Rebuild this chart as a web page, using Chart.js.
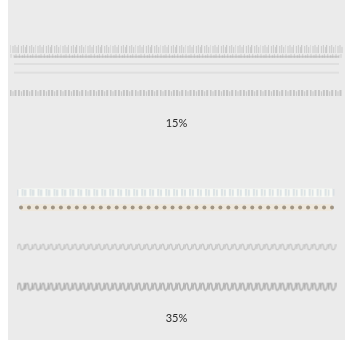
<!DOCTYPE html>
<html>
<head>
<meta charset="utf-8">
<script src="https://cdn.jsdelivr.net/npm/chart.js@4"></script>
<style>
  html, body { margin: 0; padding: 0; background: #fff; }
  #wrap { position: absolute; left: 8px; top: 0; width: 337px; height: 340px; background: #ebebeb; }
  .panel { position: relative; width: 337px; height: 170px; }
</style>
</head>
<body>
<div id="wrap">
  <div class="panel"><canvas id="top"></canvas></div>
  <div class="panel"><canvas id="bottom"></canvas></div>
</div>
<script>
// column slots along each strip
const COLS = ["1","2","3","4","5","6","7","8","9","10","11","12","13","14","15","16","17","18","19","20",
              "21","22","23","24","25","26","27","28","29","30","31","32","33","34","35","36","37","38","39","40"]

const PANEL_TITLES = ["15%", "35%"]

// top panel rows (row level on a hidden scale)
const TOP_TICKS   = [1.0,1.0,1.0,1.0,1.0,1.0,1.0,1.0,1.0,1.0,1.0,1.0,1.0,1.0,1.0,1.0,1.0,1.0,1.0,1.0,1.0,1.0,1.0,1.0,1.0,1.0,1.0,1.0,1.0,1.0,1.0,1.0,1.0,1.0,1.0,1.0,1.0,1.0,1.0,1.0]
const TOP_RULE    = [1.9,1.9,1.9,1.9,1.9,1.9,1.9,1.9,1.9,1.9,1.9,1.9,1.9,1.9,1.9,1.9,1.9,1.9,1.9,1.9,1.9,1.9,1.9,1.9,1.9,1.9,1.9,1.9,1.9,1.9,1.9,1.9,1.9,1.9,1.9,1.9,1.9,1.9,1.9,1.9]
const TOP_FAINT_A = [2.7,2.7,2.7,2.7,2.7,2.7,2.7,2.7,2.7,2.7,2.7,2.7,2.7,2.7,2.7,2.7,2.7,2.7,2.7,2.7,2.7,2.7,2.7,2.7,2.7,2.7,2.7,2.7,2.7,2.7,2.7,2.7,2.7,2.7,2.7,2.7,2.7,2.7,2.7,2.7]
const TOP_FAINT_B = [3.7,3.7,3.7,3.7,3.7,3.7,3.7,3.7,3.7,3.7,3.7,3.7,3.7,3.7,3.7,3.7,3.7,3.7,3.7,3.7,3.7,3.7,3.7,3.7,3.7,3.7,3.7,3.7,3.7,3.7,3.7,3.7,3.7,3.7,3.7,3.7,3.7,3.7,3.7,3.7]
const TOP_BLOCKS  = [6.0,6.0,6.0,6.0,6.0,6.0,6.0,6.0,6.0,6.0,6.0,6.0,6.0,6.0,6.0,6.0,6.0,6.0,6.0,6.0,6.0,6.0,6.0,6.0,6.0,6.0,6.0,6.0,6.0,6.0,6.0,6.0,6.0,6.0,6.0,6.0,6.0,6.0,6.0,6.0]

// bottom panel rows
const BOT_PASTEL  = [1.1,1.1,1.1,1.1,1.1,1.1,1.1,1.1,1.1,1.1,1.1,1.1,1.1,1.1,1.1,1.1,1.1,1.1,1.1,1.1,1.1,1.1,1.1,1.1,1.1,1.1,1.1,1.1,1.1,1.1,1.1,1.1,1.1,1.1,1.1,1.1,1.1,1.1,1.1,1.1]
const BOT_DOTS    = [2.8,2.8,2.8,2.8,2.8,2.8,2.8,2.8,2.8,2.8,2.8,2.8,2.8,2.8,2.8,2.8,2.8,2.8,2.8,2.8,2.8,2.8,2.8,2.8,2.8,2.8,2.8,2.8,2.8,2.8,2.8,2.8,2.8,2.8,2.8,2.8,2.8,2.8,2.8,2.8]
const BOT_WAVES_A = [7.3,7.3,7.3,7.3,7.3,7.3,7.3,7.3,7.3,7.3,7.3,7.3,7.3,7.3,7.3,7.3,7.3,7.3,7.3,7.3,7.3,7.3,7.3,7.3,7.3,7.3,7.3,7.3,7.3,7.3,7.3,7.3,7.3,7.3,7.3,7.3,7.3,7.3,7.3,7.3]
const BOT_WAVES_B = [11.8,11.8,11.8,11.8,11.8,11.8,11.8,11.8,11.8,11.8,11.8,11.8,11.8,11.8,11.8,11.8,11.8,11.8,11.8,11.8,11.8,11.8,11.8,11.8,11.8,11.8,11.8,11.8,11.8,11.8,11.8,11.8,11.8,11.8,11.8,11.8,11.8,11.8,11.8,11.8]

// small canvases used as point styles
function marker(w, h, draw) {
  const c = document.createElement("canvas")
  c.width = w; c.height = h
  draw(c.getContext("2d"))
  return c
}

const tickMark = marker(9, 8, g => {
  g.fillStyle = "rgba(170,170,170,0.5)"
  g.fillRect(0, 0, 1, 8); g.fillRect(3, 1, 1, 7); g.fillRect(5, 0, 1, 8); g.fillRect(7, 2, 1, 6)
})
const ruleTick = marker(9, 6, g => {
  g.fillStyle = "rgba(175,175,175,0.45)"
  g.fillRect(1, 0, 1, 4); g.fillRect(4, 1, 1, 3); g.fillRect(6, 0, 1, 4)
})
const blockMark = marker(9, 6, g => {
  g.fillStyle = "rgba(160,160,160,0.5)"
  g.fillRect(0, 0, 2, 6); g.fillRect(3, 1, 1, 5); g.fillRect(5, 0, 2, 6)
})
const pastelMark = marker(9, 8, g => {
  g.fillStyle = "rgba(205,215,222,0.6)"
  g.fillRect(0, 1, 2, 6); g.fillRect(5, 0, 2, 7)
  g.fillStyle = "rgba(248,250,246,0.9)"
  g.fillRect(2, 0, 3, 8)
})
function waveMark(color, w, h) {
  return marker(9, h, g => {
    g.strokeStyle = color; g.lineWidth = w
    g.beginPath()
    g.moveTo(1, h - 2); g.bezierCurveTo(1, 0, 4, 0, 4, h / 2); g.bezierCurveTo(4, h, 8, h, 8, 1)
    g.stroke()
  })
}
const waveLight = waveMark("rgba(160,160,160,0.55)", 1.2, 8)
const waveDark  = waveMark("rgba(140,140,140,0.6)", 1.6, 10)

function row(data, style) {
  return Object.assign({ data, showLine: false, pointRadius: 4, pointHoverRadius: 4, borderWidth: 0, clip: false }, style)
}

function panelOptions(title, yMax, pad) {
  return {
    responsive: true,
    maintainAspectRatio: false,
    animation: false,
    layout: { padding: pad },
    plugins: { legend: { display: false }, tooltip: { enabled: false } },
    scales: {
      x: {
        offset: false,
        grid: { display: false },
        border: { display: false },
        ticks: { display: false },
        title: { display: true, text: title, color: "#2a2a2a", font: { family: "Lato", size: 11 }, padding: { top: 4, bottom: 4 } }
      },
      y: {
        display: false,
        reverse: true,
        min: 0,
        max: yMax
      }
    }
  }
}

new Chart(document.getElementById("top"), {
  type: "line",
  data: {
    labels: COLS,
    datasets: [
      row(TOP_TICKS,   { pointStyle: tickMark }),
      row(TOP_RULE,    { showLine: true, borderColor: "rgba(200,200,200,0.9)", borderWidth: 2, pointStyle: ruleTick }),
      row(TOP_FAINT_A, { showLine: true, borderColor: "rgba(222,222,222,0.9)", borderWidth: 2, pointRadius: 0 }),
      row(TOP_FAINT_B, { showLine: true, borderColor: "rgba(222,222,222,0.9)", borderWidth: 2, pointRadius: 0 }),
      row(TOP_BLOCKS,  { pointStyle: blockMark })
    ]
  },
  options: panelOptions(PANEL_TITLES[0], 7.3, { top: 40, bottom: 36, left: 4, right: 4 })
})

new Chart(document.getElementById("bottom"), {
  type: "line",
  data: {
    labels: COLS,
    datasets: [
      row(BOT_PASTEL,  { showLine: true, borderColor: "rgba(242,244,240,0.9)", borderWidth: 9, pointStyle: pastelMark }),
      row(BOT_DOTS,    { showLine: true, borderColor: "rgba(238,231,218,0.95)", borderWidth: 7, pointStyle: "circle", pointRadius: 2,
                         pointBackgroundColor: "#a09584", pointBorderWidth: 0 }),
      row(BOT_WAVES_A, { pointStyle: waveLight }),
      row(BOT_WAVES_B, { pointStyle: waveDark })
    ]
  },
  options: panelOptions(PANEL_TITLES[1], 13.3, { top: 5, bottom: 11, left: 4, right: 4 })
})
</script>
</body>
</html>
